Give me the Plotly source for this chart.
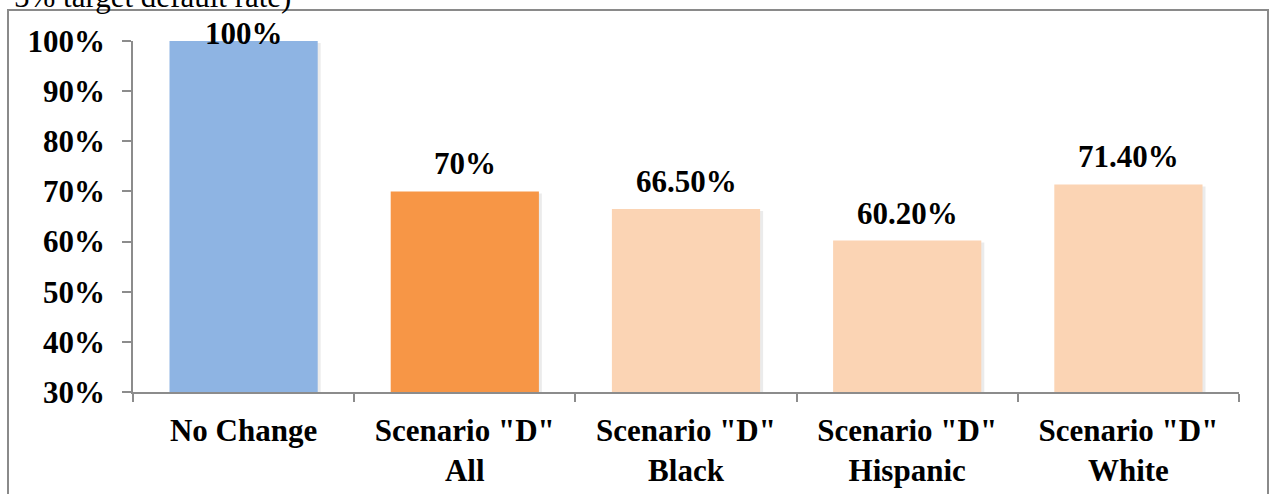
import plotly.graph_objects as go

# Share of baseline under each scenario
categories = ["No Change", "Scenario \"D\"<br>All", "Scenario \"D\"<br>Black",
              "Scenario \"D\"<br>Hispanic", "Scenario \"D\"<br>White"]
values = [1.00, 0.70, 0.665, 0.602, 0.714]
value_labels = ["100%", "70%", "66.50%", "60.20%", "71.40%"]
bar_colors = ["#8EB4E3", "#F79646", "#FBD4B4", "#FBD4B4", "#FBD4B4"]

Y_MIN, Y_MAX = 0.30, 1.00
FONT = "Liberation Serif, Times New Roman, serif"
AXIS_GREY = "#8C8C8C"

W, H = 1269, 494
M_L, M_R, M_T, M_B = 133, 30, 41, 102
plot_w = W - M_L - M_R
plot_h = H - M_T - M_B
BAR_W = 0.67

fig = go.Figure()

# soft drop shadow behind each bar
px_x = 1.0 / (plot_w / len(categories))
px_y = (Y_MAX - Y_MIN) / plot_h
fig.add_trace(go.Bar(
    x=categories,
    y=[v - Y_MIN - 2 * px_y for v in values],
    base=Y_MIN,
    width=BAR_W + 2 * px_x,
    offset=-BAR_W / 2 + 1 * px_x,
    marker=dict(color="rgba(0,0,0,0.08)", line=dict(width=0)),
    hoverinfo="skip",
    showlegend=False,
))

fig.add_trace(go.Bar(
    x=categories,
    y=[v - Y_MIN for v in values],
    base=Y_MIN,
    width=BAR_W,
    offset=-BAR_W / 2,
    marker=dict(color=bar_colors, line=dict(width=0)),
    showlegend=False,
))

# value labels above the bars; a label that would run off the top sits on the bar
for cat, v, lab in zip(categories, values, value_labels):
    shift = 8 if v < Y_MAX - 0.05 else -12
    fig.add_annotation(
        x=cat, y=v, text=f"<b>{lab}</b>", showarrow=False,
        yanchor="bottom", yshift=shift,
        font=dict(family=FONT, size=31, color="#000000"),
    )

# caption line partly above the chart frame
fig.add_annotation(
    xref="paper", yref="paper",
    x=(12 - M_L) / plot_w, y=(H - M_B - 16) / plot_h,
    xanchor="left", yanchor="bottom",
    text="5% target default rate)", showarrow=False,
    font=dict(family=FONT, size=31, color="#000000"),
)

# outer chart frame
fig.add_shape(
    type="rect", xref="paper", yref="paper",
    x0=(8 - M_L) / plot_w, x1=(1268 - M_L) / plot_w,
    y0=-0.5, y1=(H - M_B - 10) / plot_h,
    line=dict(color="#8A8A8A", width=2), fillcolor="rgba(0,0,0,0)",
    layer="below",
)

fig.update_layout(
    width=W, height=H,
    margin=dict(l=M_L, r=M_R, t=M_T, b=M_B, autoexpand=False),
    paper_bgcolor="white", plot_bgcolor="white",
    barmode="overlay",
    font=dict(family=FONT, size=31, color="#000000"),
)

fig.update_yaxes(
    range=[Y_MIN, Y_MAX], dtick=0.1, tick0=0.3, tickformat=".0%",
    showgrid=False, zeroline=False,
    showline=True, linecolor=AXIS_GREY, linewidth=1.5,
    ticks="outside", ticklen=9, tickcolor=AXIS_GREY, tickwidth=1.5,
    ticklabelstandoff=11,
    tickfont=dict(family=FONT, size=31, color="#000000", weight="bold"),
)
fig.update_xaxes(
    type="category", tickson="boundaries",
    showgrid=False, zeroline=False,
    showline=True, linecolor=AXIS_GREY, linewidth=1.5,
    ticks="outside", ticklen=8, tickcolor=AXIS_GREY, tickwidth=1.5,
    ticklabelstandoff=10,
    tickfont=dict(family=FONT, size=31, color="#000000", weight="bold"),
)

fig.write_html("out.html")
